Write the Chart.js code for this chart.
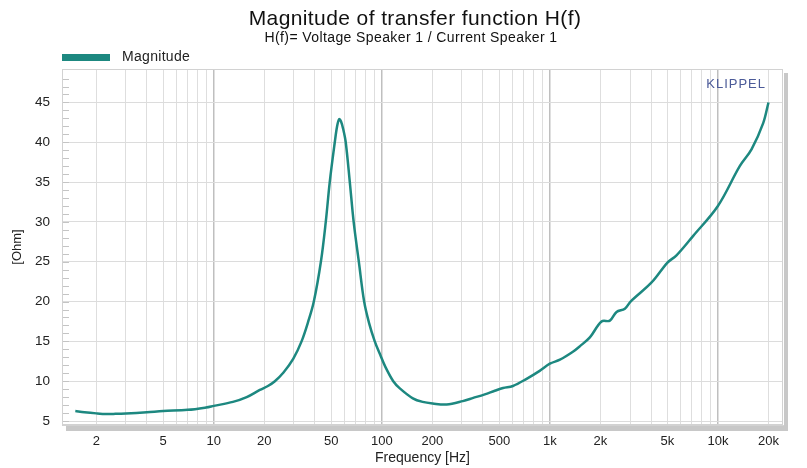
<!DOCTYPE html>
<html>
<head>
<meta charset="utf-8">
<script src="https://cdn.jsdelivr.net/npm/chart.js@4.4.1/dist/chart.umd.min.js"></script>
<style>
  html, body { margin: 0; padding: 0; background: #fff; }
</style>
</head>
<body>
<canvas id="myChart" width="807" height="468"></canvas>
<script>
// values
const freqHz = [1.5, 1.7, 2, 2.3, 2.6, 3, 4, 5, 7, 9, 10, 13, 15.7, 18.8, 21, 23.1, 26, 29.7, 33.3, 36.5,
    39.4, 43.4, 46.4, 49, 52.5, 54.2, 55.7, 57.2, 59, 61, 64.5, 68, 73, 78.5, 84, 90.8, 97, 105, 117, 128,
    153, 175, 201, 243, 303, 350, 410, 470, 527, 603, 727, 870, 1000, 1148, 1371, 1511, 1730, 2030, 2276,
    2494, 2795, 3022, 4030, 5012, 5670, 7130, 10000, 13490, 15850, 18600, 20000];
const ohm = [6.25, 6.1, 5.96, 5.88, 5.9, 5.95, 6.1, 6.25, 6.4, 6.7, 6.9, 7.4, 8.0, 8.9, 9.4, 10.0, 11.1, 12.8, 15.0, 17.5,
    20.0, 25.0, 30.0, 35.0, 40.0, 42.0, 42.9, 42.6, 41.6, 40.0, 35.0, 30.0, 25.0, 20.0, 17.3, 15.0, 13.5, 11.8, 10.0, 9.1,
    7.85, 7.4, 7.2, 7.08, 7.5, 7.9, 8.35, 8.8, 9.15, 9.4, 10.3, 11.3, 12.2, 12.7, 13.7, 14.4, 15.5, 17.5, 17.6,
    18.7, 19.1, 20.0, 22.4, 24.9, 25.8, 28.25, 32.0, 37.0, 39.1, 42.4, 45.0];

const xTickValues = [2, 5, 10, 20, 50, 100, 200, 500, 1000, 2000, 5000, 10000, 20000];
const xTickLabels = ['2', '5', '10', '20', '50', '100', '200', '500', '1k', '2k', '5k', '10k', '20k'];
const yTickValues = [5, 10, 15, 20, 25, 30, 35, 40, 45];

const teal = '#1d8880';
const FONT = "'Liberation Sans', Arial, sans-serif";

const points = freqHz.map((f, i) => ({ x: f, y: ohm[i] }));

const isDecade = v => Math.abs(Math.log10(v) - Math.round(Math.log10(v))) < 1e-9;

const decor = {
    id: 'decor',
    beforeDatasetsDraw(chart) {
        const { ctx, chartArea: a, scales: { y } } = chart;
        // small minor ticks on the left edge, one per Ohm
        ctx.save();
        ctx.strokeStyle = '#c4c4c4';
        ctx.lineWidth = 1;
        for (let v = 5; v <= 48; v++) {
            const py = Math.round(y.getPixelForValue(v)) + 0.5;
            ctx.beginPath();
            ctx.moveTo(a.left, py);
            ctx.lineTo(a.left + 7, py);
            ctx.stroke();
        }
        ctx.restore();
    },
    afterDraw(chart) {
        const { ctx, chartArea: a } = chart;
        ctx.save();
        // frame + drop shadow
        ctx.fillStyle = '#c8c8c8';
        ctx.fillRect(a.left + 4, a.bottom + 1, a.right - a.left + 1, 5);
        ctx.fillRect(a.right + 1, a.top + 4, 4, a.bottom - a.top + 2);
        ctx.strokeStyle = '#d2d2d2';
        ctx.lineWidth = 1;
        ctx.strokeRect(a.left + 0.5, a.top + 0.5, a.right - a.left - 1, a.bottom - a.top - 1);

        // titles
        ctx.fillStyle = '#111';
        ctx.textAlign = 'center';
        ctx.textBaseline = 'middle';
        ctx.font = '21px ' + FONT;
        ctx.letterSpacing = '0.4px';
        ctx.fillText('Magnitude of transfer function H(f)', 415, 19);
        ctx.font = '14px ' + FONT;
        ctx.letterSpacing = '0.4px';
        ctx.fillText('H(f)= Voltage Speaker 1 / Current Speaker 1', 411, 38);

        // legend
        ctx.fillStyle = teal;
        ctx.fillRect(62, 54, 48, 7);
        ctx.fillStyle = '#222';
        ctx.textAlign = 'left';
        ctx.font = '14px ' + FONT;
        ctx.letterSpacing = '0.3px';
        ctx.fillText('Magnitude', 122, 57);

        // brand
        ctx.fillStyle = '#4b5a98';
        ctx.textAlign = 'right';
        ctx.font = '13px ' + FONT;
        ctx.letterSpacing = '1px';
        ctx.fillText('KLIPPEL', 766, 84);
        ctx.restore();
    }
};

const config = {
    type: 'line',
    data: {
        datasets: [{
            label: 'Magnitude',
            data: points,
            borderColor: teal,
            borderWidth: 2.5,
            pointRadius: 0,
            fill: false,
            tension: 0.35
        }]
    },
    plugins: [decor],
    options: {
        responsive: false,
        animation: false,
        layout: { padding: { top: 69, right: 24, left: 0, bottom: 0 } },
        plugins: {
            legend: { display: false },
            tooltip: { enabled: false }
        },
        scales: {
            x: {
                type: 'logarithmic',
                min: 1.25,
                max: 24400,
                afterBuildTicks(scale) {
                    const t = [];
                    for (let e = 0; e <= 4; e++) {
                        for (let m = 1; m <= 9; m++) {
                            const v = m * Math.pow(10, e);
                            if (v >= 2 && v <= 20000) t.push({ value: v });
                        }
                    }
                    scale.ticks = t;
                },
                afterFit(scale) { scale.height = 43; },
                grid: {
                    drawTicks: false,
                    color: c => (c.tick && isDecade(c.tick.value)) ? '#bfbfbf' : '#dedede',
                    lineWidth: c => (c.tick && isDecade(c.tick.value)) ? 1.5 : 1
                },
                border: { color: '#d2d2d2' },
                ticks: {
                    autoSkip: false,
                    maxRotation: 0,
                    padding: 9,
                    color: '#222',
                    font: { family: FONT, size: 13 },
                    callback: v => {
                        const i = xTickValues.indexOf(v);
                        return i >= 0 ? xTickLabels[i] : '';
                    }
                },
                title: {
                    display: true,
                    text: 'Frequency [Hz]',
                    color: '#222',
                    font: { family: FONT, size: 14 },
                    padding: { top: 0, bottom: 1 }
                }
            },
            y: {
                min: 4.5,
                max: 49.2,
                afterBuildTicks(scale) {
                    scale.ticks = yTickValues.map(v => ({ value: v }));
                },
                afterFit(scale) { scale.width = 62; },
                grid: { drawTicks: false, color: '#dcdcdc' },
                border: { color: '#d2d2d2' },
                ticks: {
                    padding: 12,
                    color: '#222',
                    font: { family: FONT, size: 13.5 }
                },
                title: {
                    display: true,
                    text: '[Ohm]',
                    color: '#222',
                    font: { family: FONT, size: 13 },
                    padding: { top: 10, bottom: 0 }
                }
            }
        }
    }
};

const myChart = new Chart(document.getElementById('myChart'), config);
</script>
</body>
</html>
